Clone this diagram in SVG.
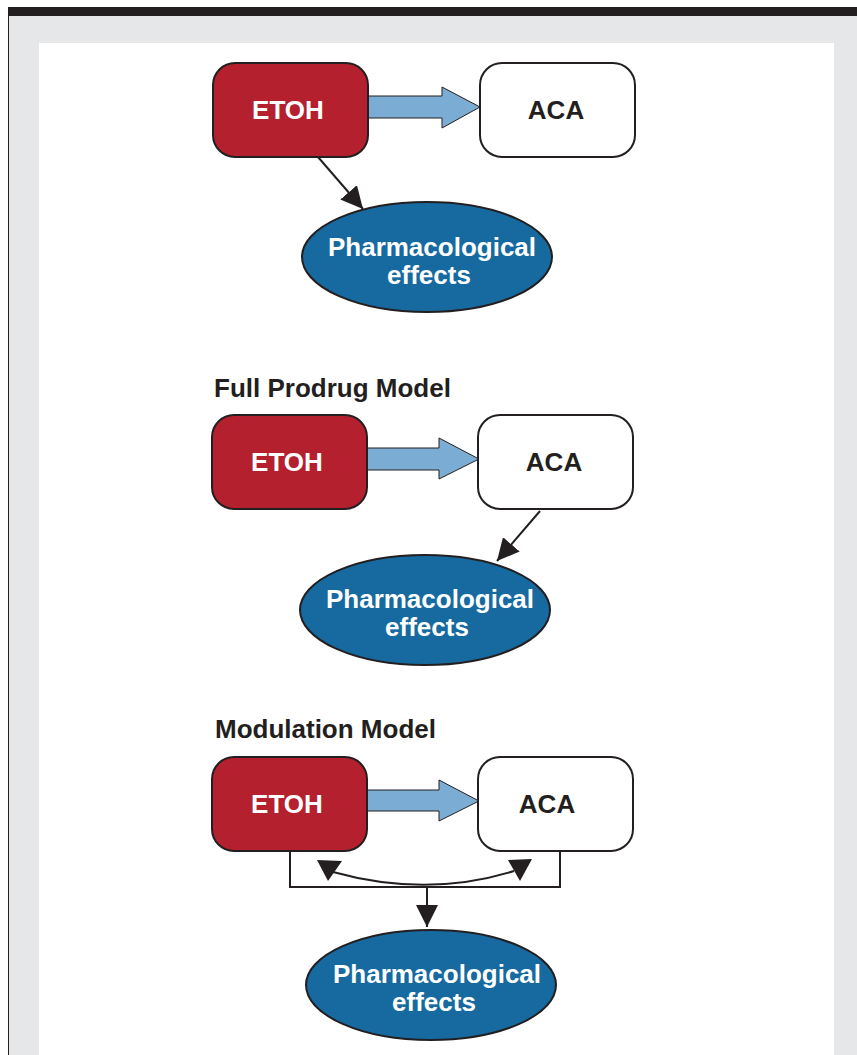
<svg xmlns="http://www.w3.org/2000/svg" width="857" height="1055" viewBox="0 0 857 1055">
<style>
.bg{fill:#e6e7e8}
.etoh{fill:#b5202e;stroke:#231f20;stroke-width:2}
.aca{fill:#ffffff;stroke:#231f20;stroke-width:2}
.eff{fill:#166aa0;stroke:#231f20;stroke-width:2}
.blk{fill:#7bacd4;stroke:#231f20;stroke-width:1}
.ln{fill:none;stroke:#231f20;stroke-width:2}
.head{fill:#231f20}
text{font-family:"Liberation Sans",Arial,Helvetica,sans-serif;font-weight:bold;font-size:26px;text-anchor:middle}
.w{fill:#ffffff}
.k{fill:#231f20}
.title{text-anchor:start;fill:#231f20}
</style>
<defs>
<marker id="ah" viewBox="0 0 22 22" refX="22" refY="11" markerWidth="22" markerHeight="22" markerUnits="userSpaceOnUse" orient="auto">
<path d="M0,0 L22,11 L0,22 z" fill="#231f20"/>
</marker>
</defs>
<rect x="0" y="0" width="857" height="1055" fill="#ffffff"/>
<rect class="bg" x="8" y="16" width="849" height="1039"/>
<rect x="8" y="7" width="849" height="9" fill="#231f20"/>
<line x1="8.5" y1="16" x2="8.5" y2="1055" stroke="#231f20" stroke-width="1"/>
<rect x="39" y="43" width="795" height="1012" fill="#ffffff"/>

<g id="connectors">
<polygon class="blk" points="368,96 442,96 442,87 480,107 442,128 442,118 368,118"/>
<line class="ln" x1="318" y1="157" x2="363" y2="209" marker-end="url(#ah)"/>
<polygon class="blk" points="367,448 439,448 439,438 479,459 439,479 439,470 367,470"/>
<line class="ln" x1="540" y1="511" x2="497" y2="561" marker-end="url(#ah)"/>
<polygon class="blk" points="367,790 439,790 439,780 479,801 439,821 439,811 367,811"/>
<polyline class="ln" points="290,851 290,887 560,887 560,851"/>
<line class="ln" x1="427" y1="887" x2="427" y2="927" marker-end="url(#ah)"/>
<path class="ln" d="M333,872 Q427,898 514,871"/>
<polygon class="head" points="317,860 342,861 328,881"/>
<polygon class="head" points="508,860 532,859 520,881"/>
</g>

<g id="title2"><text class="title" x="214" y="397">Full Prodrug Model</text></g>
<g id="title3"><text class="title" x="215" y="738">Modulation Model</text></g>

<g id="etoh1"><rect class="etoh" x="213" y="63" width="155" height="94" rx="22"/><text class="w" x="288" y="119">ETOH</text></g>
<g id="aca1"><rect class="aca" x="480" y="63" width="155" height="94" rx="22"/><text class="k" x="556" y="119">ACA</text></g>
<g id="eff1"><ellipse class="eff" cx="427" cy="257" rx="125" ry="55"/><text class="w" x="432" y="256">Pharmacological</text><text class="w" x="429" y="284">effects</text></g>

<g id="etoh2"><rect class="etoh" x="212" y="415" width="155" height="94" rx="22"/><text class="w" x="287" y="471">ETOH</text></g>
<g id="aca2"><rect class="aca" x="478" y="415" width="155" height="94" rx="22"/><text class="k" x="554" y="471">ACA</text></g>
<g id="eff2"><ellipse class="eff" cx="425" cy="610" rx="125" ry="55"/><text class="w" x="430" y="608">Pharmacological</text><text class="w" x="427" y="636">effects</text></g>

<g id="etoh3"><rect class="etoh" x="212" y="757" width="155" height="94" rx="22"/><text class="w" x="287" y="813">ETOH</text></g>
<g id="aca3"><rect class="aca" x="478" y="757" width="155" height="94" rx="22"/><text class="k" x="547" y="813">ACA</text></g>
<g id="eff3"><ellipse class="eff" cx="431" cy="985" rx="125" ry="55"/><text class="w" x="437" y="983">Pharmacological</text><text class="w" x="434" y="1011">effects</text></g>
</svg>
